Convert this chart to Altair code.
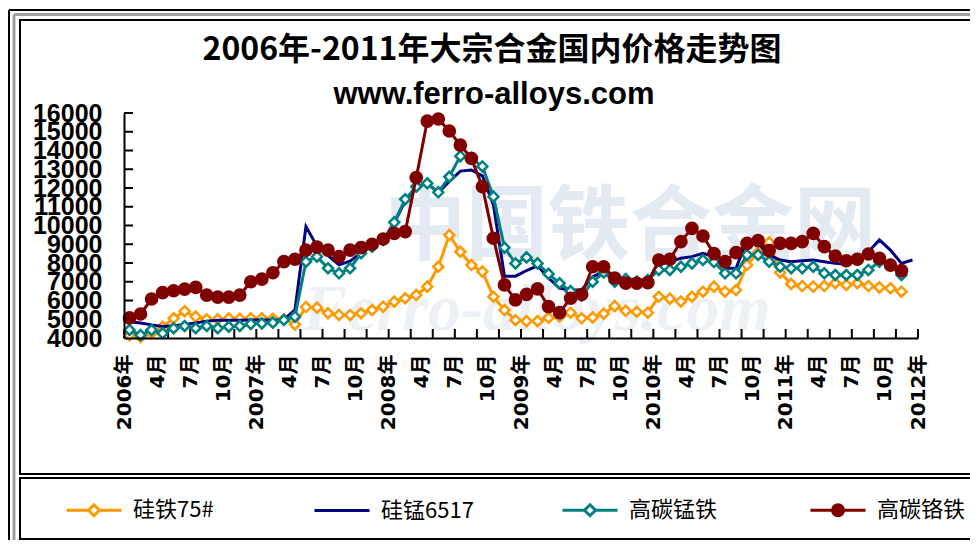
import altair as alt
import pandas as pd

# ---------------- data ----------------
series_names = ["硅铁75#", "硅锰6517", "高碳锰铁", "高碳铬铁"]
series_colors = ["#FF9900", "#000080", "#008080", "#800000"]

# monthly prices, Jan 2006 onward
fesi75 = [4150, 4050, 4250, 4600, 5050, 5430, 5140, 5000, 5000, 5050, 5020, 5050, 5050, 5020, 5000,
          4720, 5650, 5620, 5320, 5230, 5230, 5320, 5490, 5670, 5940, 6120, 6290, 6740, 7800, 9490,
          8600, 7890, 7540, 6200, 5490, 4950, 4900, 4900, 5080, 5150, 5350, 5050, 5100, 5300, 5700,
          5450, 5400, 5350, 6200, 6100, 5950, 6200, 6470, 6740, 6470, 6560, 7890, 8560, 9100, 7500,
          6880, 6770, 6740, 6770, 6920, 6830, 6920, 6770, 6700, 6650, 6470]
simn6517 = [4870, 4800, 4700, 4620, 4650, 4720, 4800, 4900, 4950, 4950, 4950, 4960, 4960, 4960, 4980,
            5500, 9940, 8900, 8400, 7900, 8100, 8550, 8900, 9200, 10150, 11300, 12050, 12250, 11750,
            12350, 12900, 12960, 12650, 11100, 7300, 7300, 7600, 7850, 7200, 6650, 6560, 6560, 7270,
            7540, 7270, 7180, 7090, 7090, 7890, 8070, 8250, 8340, 8520, 8340, 7720, 7720, 9230, 9050,
            8430, 8160, 8070, 8120, 8160, 8070, 7980, 7940, 8160, 8600, 9230, 8690, 7980, 8160]
hcfemn = [4430, 4160, 4430, 4250, 4520, 4640, 4520, 4640, 4520, 4600, 4640, 4750, 4780, 4820, 4960,
          5140, 8070, 8340, 7720, 7450, 7720, 8520, 8870, 9230, 10170, 11400, 12070, 12250, 11770,
          12600, 13700, 13580, 13150, 11540, 8820, 7980, 8300, 7980, 7420, 6920, 6500, 6250, 7000,
          7500, 7000, 7150, 7010, 7090, 7630, 7630, 7800, 7980, 8160, 8050, 7450, 7450, 8430, 8430,
          8070, 7800, 7720, 7720, 7800, 7450, 7360, 7360, 7360, 7630, 8070, 7890, 7360]
hcfecr = [5070, 5280, 6080, 6420, 6520, 6610, 6700, 6290, 6180, 6180, 6290, 7000, 7140, 7480, 8070,
          8200, 8690, 8850, 8690, 8340, 8690, 8820, 9000, 9280, 9580, 9670, 12550, 15570, 15680,
          15040, 14290, 13580, 12070, 9320, 6830, 6030, 6330, 6620, 5670, 5350, 6120, 6320, 7800,
          7800, 7200, 6930, 6920, 6950, 8160, 8200, 9140, 9850, 9440, 8500, 8070, 8550, 9050, 9190,
          8660, 9050, 9050, 9140, 9580, 8870, 8370, 8120, 8200, 8480, 8250, 7890, 7590]

x_label_values = list(range(0, 73, 3))
x_labels = ["2006年", "4月", "7月", "10月", "2007年", "4月", "7月", "10月",
            "2008年", "4月", "7月", "10月", "2009年", "4月", "7月", "10月",
            "2010年", "4月", "7月", "10月", "2011年", "4月", "7月", "10月", "2012年"]
x_tick_values = list(range(0, 73, 2))
y_tick_values = list(range(4000, 16001, 1000))

title_text = "2006年-2011年大宗合金国内价格走势图"
subtitle_text = "www.ferro-alloys.com"
wm_cn = "中国铁合金网"
wm_en = "Ferro-alloys.com"

all_values = [fesi75, simn6517, hcfemn, hcfecr]
frames = []
for name, vals in zip(series_names, all_values):
    frames.append(pd.DataFrame({"series": name,
                                "m": [i + 0.5 for i in range(len(vals))],
                                "v": vals}))
df = pd.concat(frames, ignore_index=True)

# ---------------- layout ----------------
W, H = 794, 225
one = pd.DataFrame({"a": [0]})

label_expr = "[" + ",".join('"%s"' % s for s in x_labels) + "][round(datum.value/3)]"

xscale = alt.Scale(domain=[0, 72], nice=False, zero=False)
yscale = alt.Scale(domain=[4000, 16000], nice=False, zero=False)

xaxis = alt.Axis(values=x_label_values, labelExpr=label_expr, labelAngle=270, tickSize=0,
                 labelPadding=16, labelFontSize=20, labelFontWeight="bold",
                 labelFont="DejaVu Sans, Noto Sans CJK SC",
                 labelColor="black", domainColor="black", domainWidth=2, grid=False,
                 title=None, labelOverlap=False, labelBound=False, labelFlush=False, zindex=2)
yaxis = alt.Axis(values=y_tick_values, format="d", tickSize=0, labelPadding=22, labelFontSize=25,
                 labelFont="Liberation Sans Narrow, Arial Narrow, Liberation Sans",
                 labelFontWeight="bold", labelColor="black", domainColor="black", domainWidth=2,
                 grid=False, title=None, labelOverlap=False, labelBound=False, labelFlush=False,
                 zindex=2)


def X(field):
    return alt.X(field, type="quantitative", scale=xscale, axis=xaxis)


def Y(field):
    return alt.Y(field, type="quantitative", scale=yscale, axis=yaxis)


layers = []

# frame decorations
layers.append(alt.Chart(one).mark_rule(color="black", strokeWidth=2).encode(
    x=alt.value(-115), y=alt.value(-103), y2=alt.value(430)))
layers.append(alt.Chart(one).mark_rule(color="black", strokeWidth=2).encode(
    x=alt.value(-115), x2=alt.value(860), y=alt.value(-103)))
layers.append(alt.Chart(one).mark_rule(color="#a0a0a0", strokeWidth=3).encode(
    x=alt.value(-110), y=alt.value(-98.5), y2=alt.value(430)))
layers.append(alt.Chart(one).mark_rule(color="#a0a0a0", strokeWidth=3).encode(
    x=alt.value(-110), x2=alt.value(860), y=alt.value(-98.5)))
layers.append(alt.Chart(one).mark_rect(fill="white", stroke="black", strokeWidth=2).encode(
    x=alt.value(-104), x2=alt.value(870), y=alt.value(-93), y2=alt.value(361)))
layers.append(alt.Chart(one).mark_rect(fill="#808080").encode(
    x=alt.value(-100), x2=alt.value(870), y=alt.value(370), y2=alt.value(440)))
layers.append(alt.Chart(one).mark_rect(fill="white", stroke="black", strokeWidth=2).encode(
    x=alt.value(-104), x2=alt.value(870), y=alt.value(365), y2=alt.value(426)))

# watermark (faint)
layers.append(alt.Chart(one).mark_text(font="Noto Sans CJK SC", fontSize=82, color="#e4eaf2",
                                       fontWeight="bold", baseline="middle", align="center").encode(
    x=alt.value(506), y=alt.value(115), text=alt.value(wm_cn)))
layers.append(alt.Chart(one).mark_text(font="Liberation Serif", fontSize=66, color="#edf1f6",
                                       fontWeight="bold", fontStyle="italic", baseline="middle",
                                       align="center").encode(
    x=alt.value(413), y=alt.value(197), text=alt.value(wm_en)))

# titles
layers.append(alt.Chart(one).mark_text(font="Noto Sans CJK SC", fontSize=32, fontWeight="bold",
                                       color="black", baseline="middle", align="center").encode(
    x=alt.value(368), y=alt.value(-63), text=alt.value(title_text)))
layers.append(alt.Chart(one).mark_text(font="Liberation Sans", fontSize=31, fontWeight="bold",
                                       color="black", baseline="middle", align="center").encode(
    x=alt.value(370), y=alt.value(-18), text=alt.value(subtitle_text)))

# inward ticks
layers.append(alt.Chart(pd.DataFrame({"t": y_tick_values})).mark_rule(color="black", strokeWidth=2).encode(
    y=Y("t"), x=alt.value(0), x2=alt.value(9)))
layers.append(alt.Chart(pd.DataFrame({"t": x_tick_values})).mark_rule(color="black", strokeWidth=2).encode(
    x=X("t"), y=alt.value(H - 9), y2=alt.value(H)))

# data series (drawn in Excel order)
marker = {"硅铁75#": ("diamond", "white", 100),
          "高碳锰铁": ("diamond", "white", 100),
          "高碳铬铁": ("circle", "#800000", 125)}
base = alt.Chart(df)
for name, col in zip(series_names, series_colors):
    sel = base.transform_filter(alt.datum.series == name)
    layers.append(sel.mark_line(color=col, strokeWidth=3).encode(x=X("m"), y=Y("v")))
    if name in marker:
        shp, fil, sz = marker[name]
        layers.append(sel.mark_point(shape=shp, fill=fil, stroke=col, strokeWidth=2.5,
                                     size=sz, opacity=1, filled=False).encode(x=X("m"), y=Y("v")))

# legend carrier (no visible data)
leg_paths = ["M-1,0H-0.2M0.2,0H1M-0.2,0L0,-0.2L0.2,0L0,0.2Z",
             "M-1,0H1",
             "M-1,0H-0.2M0.2,0H1M-0.2,0L0,-0.2L0.2,0L0,0.2Z",
             "M-1,0H1M-0.2,0A0.2,0.2,0,1,1,0.2,0A0.2,0.2,0,1,1,-0.2,0Z"]
leg_fills = ["white", "transparent", "white", "#800000"]
legend = alt.Legend(title=None, orient="none", legendX=-59, legendY=368, direction="horizontal",
                    columns=4, gridAlign="all", columnPadding=82, symbolSize=3025,
                    symbolStrokeWidth=3, labelFont="Noto Sans CJK SC", labelFontSize=22,
                    labelColor="black", labelOffset=10, symbolOpacity=1, labelLimit=300)
layers.append(base.transform_filter("datum.v < 0").mark_point(opacity=1).encode(
    x=X("m"), y=Y("v"),
    stroke=alt.Stroke("series:N", scale=alt.Scale(domain=series_names, range=series_colors), legend=legend),
    fill=alt.Fill("series:N", scale=alt.Scale(domain=series_names, range=leg_fills), legend=legend),
    shape=alt.Shape("series:N", scale=alt.Scale(domain=series_names, range=leg_paths), legend=legend)))

chart = alt.layer(*layers).properties(
    width=W, height=H,
    padding={"left": 116, "top": 105, "right": 52, "bottom": 202},
    autosize=alt.AutoSizeParams(type="none"),
    background="white",
).configure_view(stroke=None)

chart.save("out.html", embed_options={"renderer": "svg", "actions": False})
